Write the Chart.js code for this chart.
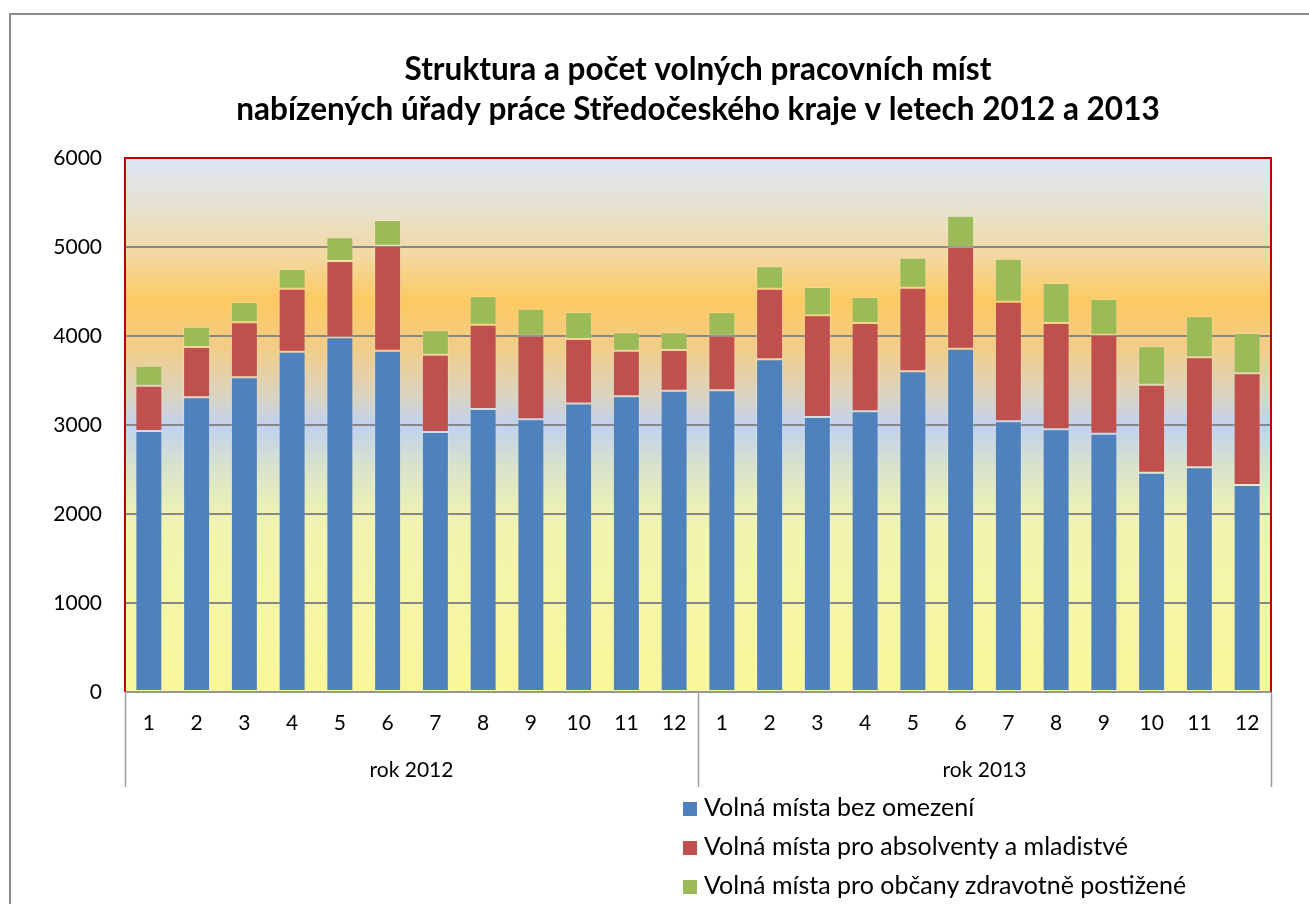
<!DOCTYPE html>
<html lang="cs">
<head>
<meta charset="utf-8">
<title>Volná pracovní místa</title>
<script src="https://cdn.jsdelivr.net/npm/chart.js@4"></script>
<style>
  html, body { margin: 0; padding: 0; background: #fff; overflow: hidden; }
  #ramec { position: absolute; left: 9px; top: 13px; width: 1320px; height: 920px; border: 2px solid #8a8a8a; }
  #obal { position: absolute; left: 0; top: 0; width: 1309px; height: 904px; }
  #legenda { position: absolute; left: 683px; top: 787px; font-family: Lato, "Open Sans", sans-serif; font-size: 25px; color: #000; }
  #legenda div { height: 39px; line-height: 39px; white-space: nowrap; }
  #legenda span { display: inline-block; width: 14px; height: 14px; margin-right: 7px; vertical-align: 0px; }
</style>
</head>
<body>
<div id="ramec"></div>
<div id="obal"><canvas id="chart"></canvas></div>
<div id="legenda"></div>
<script>
// Data
var mesice = ["1","2","3","4","5","6","7","8","9","10","11","12",
              "1","2","3","4","5","6","7","8","9","10","11","12"];
var roky = ["rok 2012", "rok 2013"];
var bezOmezeni = [2933, 3311, 3536, 3824, 3985, 3835, 2921, 3180, 3064, 3243, 3322, 3386,
                  3390, 3738, 3090, 3154, 3603, 3858, 3041, 2951, 2903, 2464, 2524, 2326];
var absolventi = [509, 565, 618, 708, 858, 1180, 869, 947, 940, 723, 513, 457,
                  614, 794, 1142, 992, 940, 1142, 1345, 1195, 1112, 989, 1236, 1255];
var zdravotne = [224, 229, 228, 221, 266, 288, 274, 319, 303, 304, 206, 198,
                 262, 251, 319, 292, 337, 352, 483, 450, 401, 431, 461, 453];
var yTicks = [0, 1000, 2000, 3000, 4000, 5000, 6000];

var pismo = "Lato, 'Open Sans', sans-serif";

// pozadí grafu, rámeček a dělicí čáry os
var pozadi = {
    id: "pozadi",
    beforeDraw: function(chart) {
        var a = chart.chartArea, c = chart.ctx;
        var g = c.createLinearGradient(0, a.top, 0, a.bottom);
        g.addColorStop(0.00, "#dde5f5");
        g.addColorStop(0.10, "#e8e1cd");
        g.addColorStop(0.18, "#f2d9a2");
        g.addColorStop(0.27, "#fdc961");
        g.addColorStop(0.36, "#f1cd8a");
        g.addColorStop(0.45, "#d9d4c4");
        g.addColorStop(0.50, "#c0d1ef");
        g.addColorStop(0.58, "#d9e3cc");
        g.addColorStop(0.68, "#f0f4b0");
        g.addColorStop(1.00, "#faf79a");
        c.save();
        c.fillStyle = g;
        c.fillRect(a.left, a.top, a.right - a.left, a.bottom - a.top);
        c.restore();
    },
    afterDraw: function(chart) {
        var a = chart.chartArea, c = chart.ctx, x = chart.scales.x, x2 = chart.scales.x2;
        var stred = (x.getPixelForValue(11) + x.getPixelForValue(12)) / 2;
        c.save();
        c.strokeStyle = "#c00000";
        c.lineWidth = 2;
        c.beginPath();
        c.moveTo(a.left, a.bottom);
        c.lineTo(a.left, a.top);
        c.lineTo(a.right, a.top);
        c.lineTo(a.right, a.bottom);
        c.stroke();
        c.strokeStyle = "#9a9a9a";
        c.lineWidth = 1.5;
        c.beginPath();
        c.moveTo(a.left, a.bottom);
        c.lineTo(a.right, a.bottom);
        [a.left, stred, a.right].forEach(function(px) {
            px = Math.round(px) + 0.5;
            c.moveTo(px, a.bottom);
            c.lineTo(px, x2.bottom);
        });
        c.stroke();
        c.restore();
    }
};

var ctx = document.getElementById("chart").getContext("2d");
var chart = new Chart(ctx, {
    type: "bar",
    data: {
        labels: mesice,
        datasets: [
            { label: "Volná místa bez omezení", data: bezOmezeni, backgroundColor: "#4f81bd" },
            { label: "Volná místa pro absolventy a mladistvé", data: absolventi, backgroundColor: "#c0504d" },
            { label: "Volná místa pro občany zdravotně postižené", data: zdravotne, backgroundColor: "#9bbb59" }
        ]
    },
    options: {
        responsive: true,
        maintainAspectRatio: false,
        animation: false,
        datasets: {
            bar: {
                barPercentage: 0.565,
                categoryPercentage: 1,
                borderWidth: 1,
                borderColor: "rgba(255,255,255,0.2)",
                borderSkipped: false
            }
        },
        layout: { padding: { left: 0, right: 38, top: 0, bottom: 117 } },
        plugins: {
            legend: { display: false },
            tooltip: { enabled: false },
            title: {
                display: true,
                fullSize: false,
                text: ["Struktura a počet volných pracovních míst",
                       "nabízených úřady práce Středočeského kraje v letech 2012 a 2013"],
                color: "#000",
                font: { family: pismo, size: 31.5, weight: "bold", lineHeight: 1.27 },
                padding: { top: 50, bottom: 28 }
            }
        },
        scales: {
            x: {
                stacked: true,
                weight: 0,
                grid: { display: false, drawTicks: false },
                border: { display: false },
                ticks: { color: "#000", font: { family: pismo, size: 21 }, padding: 19, autoSkip: false, maxRotation: 0 },
                afterFit: function(s) { s.height = 55; }
            },
            x2: {
                type: "category",
                labels: roky,
                position: "bottom",
                weight: 1,
                offset: true,
                grid: { display: false, drawTicks: false },
                border: { display: false },
                ticks: { color: "#000", font: { family: pismo, size: 21 }, padding: 11, maxRotation: 0 },
                afterFit: function(s) { s.height = 40; }
            },
            y: {
                stacked: true,
                min: 0,
                max: 6000,
                afterBuildTicks: function(s) { s.ticks = yTicks.map(function(v) { return { value: v }; }); },
                grid: { color: "#878787", lineWidth: 2, drawTicks: false },
                border: { display: false },
                ticks: {
                    color: "#000",
                    font: { family: pismo, size: 21 },
                    padding: 23,
                    callback: function(v) { return String(v); }
                },
                afterFit: function(s) { s.width = 125; }
            }
        }
    },
    plugins: [pozadi]
});

// legenda jako HTML
var legenda = document.getElementById("legenda");
chart.data.datasets.forEach(function(ds) {
    var r = document.createElement("div");
    var b = document.createElement("span");
    b.style.background = ds.backgroundColor;
    r.appendChild(b);
    r.appendChild(document.createTextNode(ds.label));
    legenda.appendChild(r);
});
</script>
</body>
</html>
